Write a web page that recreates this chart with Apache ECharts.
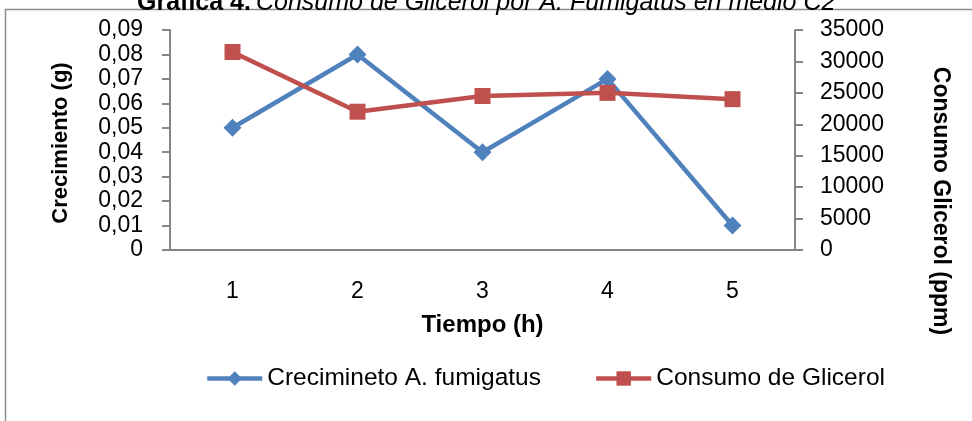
<!DOCTYPE html>
<html>
<head>
<meta charset="utf-8">
<script src="https://cdn.jsdelivr.net/npm/echarts@6/dist/echarts.min.js"></script>
<style>
html,body{margin:0;padding:0;background:#fff;}
#chart{width:972px;height:421px;}
</style>
</head>
<body>
<div id="chart"></div>
<script>
const categories = ['1', '2', '3', '4', '5'];
const crecimiento = [0.05, 0.08, 0.04, 0.07, 0.01];
const glicerol = [31500, 22000, 24500, 25000, 24000];
const seriesNames = ['Crecimineto A. fumigatus', 'Consumo de Glicerol'];
const FONT = "'Liberation Sans', Arial, sans-serif";

const chart = echarts.init(document.getElementById('chart'), null, {renderer: 'canvas'});
chart.setOption({
  animation: false,
  backgroundColor: '#fff',
  textStyle: {fontFamily: FONT},
  title: {
    left: 132, top: -14,
    text: '{b|Gráfica 4.} {i|Consumo de Glicerol por A. Fumigatus en medio C2}',
    textStyle: {
      fontWeight: 'normal',
      rich: {
        b: {fontFamily: FONT, fontSize: 25, fontWeight: 'bold', color: '#000'},
        i: {fontFamily: FONT, fontSize: 25, fontWeight: 'normal', fontStyle: 'italic', color: '#000'}
      }
    }
  },
  graphic: [{
    type: 'rect', silent: true, z: -1,
    shape: {x: 5.5, y: 9.5, width: 1100, height: 600},
    style: {fill: 'none', stroke: '#8c8c8c', lineWidth: 1.5}
  }],
  grid: {left: 170, right: 177, top: 30, bottom: 171, containLabel: false},
  legend: {
    left: 200, top: 361,
    itemWidth: 55, itemHeight: 18, itemGap: 53,
    lineStyle: {width: 4.5},
    textStyle: {fontFamily: FONT, fontSize: 24.5, color: '#000'},
    data: seriesNames
  },
  xAxis: {
    type: 'category', data: categories, boundaryGap: true,
    name: 'Tiempo (h)', nameLocation: 'middle', nameGap: 63,
    nameTextStyle: {fontFamily: FONT, fontSize: 24, fontWeight: 'bold', color: '#000'},
    axisLine: {lineStyle: {color: '#868686', width: 2}},
    axisTick: {show: false},
    axisLabel: {margin: 30, fontFamily: FONT, fontSize: 23, color: '#000'}
  },
  yAxis: [{
    type: 'value', min: 0, max: 0.09, interval: 0.01,
    name: 'Crecimiento (g)', nameLocation: 'middle', nameGap: 98, nameRotate: 90,
    nameTextStyle: {fontFamily: FONT, fontSize: 22, fontWeight: 'bold', color: '#000', padding: [0, 6, 0, 0]},
    axisLine: {show: true, lineStyle: {color: '#868686', width: 2}},
    axisTick: {show: true, length: 8, lineStyle: {color: '#868686', width: 2}},
    splitLine: {show: false},
    axisLabel: {
      margin: 27, fontFamily: FONT, fontSize: 23, color: '#000',
      formatter: v => v === 0 ? '0' : v.toFixed(2).replace('.', ',')
    }
  }, {
    type: 'value', min: 0, max: 35000, interval: 5000, position: 'right',
    name: 'Consumo Glicerol (ppm)', nameLocation: 'middle', nameGap: 134, nameRotate: -90,
    nameTextStyle: {fontFamily: FONT, fontSize: 23, fontWeight: 'bold', color: '#000', padding: [0, 0, 0, 122]},
    axisLine: {show: true, lineStyle: {color: '#868686', width: 2}},
    axisTick: {show: true, length: 8, lineStyle: {color: '#868686', width: 2}},
    splitLine: {show: false},
    axisLabel: {margin: 25, fontFamily: FONT, fontSize: 23, color: '#000', formatter: v => String(v)}
  }],
  series: [{
    name: seriesNames[0], type: 'line', yAxisIndex: 0, data: crecimiento,
    symbol: 'diamond', symbolSize: 18,
    itemStyle: {color: '#4F81BD'},
    lineStyle: {color: '#4F81BD', width: 4.5}
  }, {
    name: seriesNames[1], type: 'line', yAxisIndex: 1, data: glicerol,
    symbol: 'rect', symbolSize: 16,
    itemStyle: {color: '#C0504D'},
    lineStyle: {color: '#C0504D', width: 4.5}
  }]
});
</script>
</body>
</html>
